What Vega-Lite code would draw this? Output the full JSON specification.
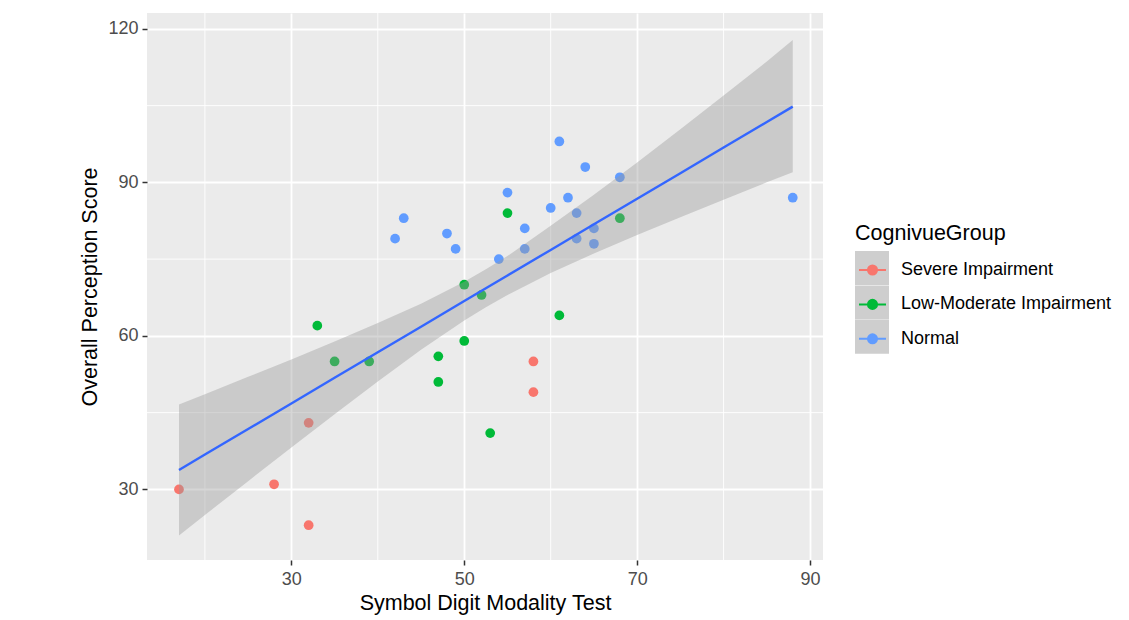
{
  "$schema": "https://vega.github.io/schema/vega-lite/v6.json",
  "width": 676,
  "height": 547,
  "autosize": "none",
  "padding": {"left": 147, "top": 13, "right": 306, "bottom": 60},
  "background": "#FFFFFF",
  "config": {
    "font": "Liberation Sans",
    "view": {"fill": "#EBEBEB", "stroke": null},
    "axis": {
      "domain": false,
      "tickColor": "#333333",
      "tickWidth": 1.5,
      "tickSize": 5,
      "labelColor": "#4D4D4D",
      "labelFontSize": 18,
      "labelFont": "Liberation Sans",
      "titleFont": "Liberation Sans",
      "titleFontSize": 21.5,
      "titleFontWeight": "normal",
      "titleColor": "#000000",
      "gridColor": "#FFFFFF",
      "gridWidth": 1.8,
      "gridOpacity": 1
    },
    "legend": {
      "titleFont": "Liberation Sans",
      "labelFont": "Liberation Sans",
      "titleFontWeight": "normal",
      "titleColor": "#000000",
      "labelColor": "#000000"
    }
  },
  "datasets": {
    "points": [
      {"sdmt": 17, "score": 30, "group": "Severe Impairment"},
      {"sdmt": 28, "score": 31, "group": "Severe Impairment"},
      {"sdmt": 32, "score": 43, "group": "Severe Impairment"},
      {"sdmt": 32, "score": 23, "group": "Severe Impairment"},
      {"sdmt": 58, "score": 55, "group": "Severe Impairment"},
      {"sdmt": 58, "score": 49, "group": "Severe Impairment"},
      {"sdmt": 33, "score": 62, "group": "Low-Moderate Impairment"},
      {"sdmt": 35, "score": 55, "group": "Low-Moderate Impairment"},
      {"sdmt": 39, "score": 55, "group": "Low-Moderate Impairment"},
      {"sdmt": 47, "score": 56, "group": "Low-Moderate Impairment"},
      {"sdmt": 47, "score": 51, "group": "Low-Moderate Impairment"},
      {"sdmt": 50, "score": 70, "group": "Low-Moderate Impairment"},
      {"sdmt": 50, "score": 59, "group": "Low-Moderate Impairment"},
      {"sdmt": 52, "score": 68, "group": "Low-Moderate Impairment"},
      {"sdmt": 53, "score": 41, "group": "Low-Moderate Impairment"},
      {"sdmt": 55, "score": 84, "group": "Low-Moderate Impairment"},
      {"sdmt": 61, "score": 64, "group": "Low-Moderate Impairment"},
      {"sdmt": 68, "score": 83, "group": "Low-Moderate Impairment"},
      {"sdmt": 42, "score": 79, "group": "Normal"},
      {"sdmt": 43, "score": 83, "group": "Normal"},
      {"sdmt": 48, "score": 80, "group": "Normal"},
      {"sdmt": 49, "score": 77, "group": "Normal"},
      {"sdmt": 54, "score": 75, "group": "Normal"},
      {"sdmt": 55, "score": 88, "group": "Normal"},
      {"sdmt": 57, "score": 81, "group": "Normal"},
      {"sdmt": 57, "score": 77, "group": "Normal"},
      {"sdmt": 60, "score": 85, "group": "Normal"},
      {"sdmt": 61, "score": 98, "group": "Normal"},
      {"sdmt": 62, "score": 87, "group": "Normal"},
      {"sdmt": 63, "score": 84, "group": "Normal"},
      {"sdmt": 63, "score": 79, "group": "Normal"},
      {"sdmt": 64, "score": 93, "group": "Normal"},
      {"sdmt": 65, "score": 81, "group": "Normal"},
      {"sdmt": 65, "score": 78, "group": "Normal"},
      {"sdmt": 68, "score": 91, "group": "Normal"},
      {"sdmt": 88, "score": 87, "group": "Normal"}
    ],
    "band": [
      {"sdmt": 17, "fit": 33.8, "lo": 21.0, "hi": 46.6},
      {"sdmt": 20, "fit": 36.8, "lo": 25.0, "hi": 48.6},
      {"sdmt": 25, "fit": 41.8, "lo": 31.6, "hi": 52.0},
      {"sdmt": 30, "fit": 46.8, "lo": 38.2, "hi": 55.4},
      {"sdmt": 35, "fit": 51.8, "lo": 44.7, "hi": 58.9},
      {"sdmt": 40, "fit": 56.8, "lo": 51.1, "hi": 62.5},
      {"sdmt": 45, "fit": 61.8, "lo": 57.3, "hi": 66.3},
      {"sdmt": 50, "fit": 66.8, "lo": 63.0, "hi": 70.6},
      {"sdmt": 52.5, "fit": 69.3, "lo": 65.6, "hi": 73.0},
      {"sdmt": 55, "fit": 71.8, "lo": 68.0, "hi": 75.6},
      {"sdmt": 60, "fit": 76.8, "lo": 72.3, "hi": 81.5},
      {"sdmt": 65, "fit": 81.8, "lo": 76.1, "hi": 87.6},
      {"sdmt": 70, "fit": 86.8, "lo": 79.7, "hi": 93.9},
      {"sdmt": 75, "fit": 91.8, "lo": 83.2, "hi": 100.4},
      {"sdmt": 80, "fit": 96.8, "lo": 86.6, "hi": 107.0},
      {"sdmt": 85, "fit": 101.8, "lo": 90.0, "hi": 113.6},
      {"sdmt": 88, "fit": 104.8, "lo": 92.0, "hi": 117.8}
    ],
    "minor_x": [{"v": 20}, {"v": 40}, {"v": 60}, {"v": 80}],
    "minor_y": [{"v": 45}, {"v": 75}, {"v": 105}]
  },
  "layer": [
    {
      "data": {"name": "minor_x"},
      "mark": {"type": "rule", "color": "#FFFFFF", "strokeWidth": 0.9},
      "encoding": {
        "x": {"field": "v", "type": "quantitative", "scale": {"domain": [13.3, 91.5], "nice": false, "zero": false}}
      }
    },
    {
      "data": {"name": "minor_y"},
      "mark": {"type": "rule", "color": "#FFFFFF", "strokeWidth": 0.9},
      "encoding": {
        "y": {"field": "v", "type": "quantitative", "scale": {"domain": [16.2, 123.1], "nice": false, "zero": false}}
      }
    },
    {
      "data": {"name": "points"},
      "mark": {"type": "point", "filled": true, "opacity": 0, "color": "#CECECE"},
      "encoding": {
        "x": {"field": "sdmt", "type": "quantitative"},
        "y": {"field": "score", "type": "quantitative"},
        "shape": {
          "field": "group", "type": "nominal",
          "scale": {"range": ["square"]},
          "legend": {
            "title": null,
            "labelExpr": "''",
            "orient": "none",
            "legendX": 708,
            "legendY": 238,
            "padding": 0,
            "zindex": 0,
            "labelFontSize": 18,
            "rowPadding": 0.4,
            "symbolSize": 1156,
            "symbolStrokeWidth": 0,
            "symbolOpacity": 1,
            "symbolOffset": 0,
            "encode": {
              "symbols": {"update": {"fill": {"value": "#CECECE"}, "opacity": {"value": 1}, "strokeWidth": {"value": 0}}}
            }
          }
        }
      }
    },
    {
      "data": {"name": "points"},
      "mark": {"type": "circle", "size": 95, "opacity": 1},
      "encoding": {
        "x": {
          "field": "sdmt", "type": "quantitative",
          "scale": {"domain": [13.3, 91.5], "nice": false, "zero": false},
          "axis": {"values": [30, 50, 70, 90], "title": "Symbol Digit Modality Test", "labelPadding": 5, "titlePadding": 4, "format": "d"}
        },
        "y": {
          "field": "score", "type": "quantitative",
          "scale": {"domain": [16.2, 123.1], "nice": false, "zero": false},
          "axis": {"values": [30, 60, 90, 120], "title": "Overall Perception Score", "labelPadding": 4, "titlePadding": 6, "format": "d"}
        },
        "color": {
          "field": "group", "type": "nominal",
          "scale": {"domain": ["Severe Impairment", "Low-Moderate Impairment", "Normal"], "range": ["#F8766D", "#00BA38", "#619CFF"]},
          "legend": {
            "title": "CognivueGroup",
            "orient": "none",
            "legendX": 708,
            "legendY": 210,
            "padding": 0,
            "zindex": 2,
            "titleFontSize": 21.5,
            "titlePadding": 8,
            "labelFontSize": 18,
            "labelOffset": 11,
            "labelLimit": 300,
            "rowPadding": 7.4,
            "symbolType": "M-0.833,0L0.833,0M-0.28,0A0.28,0.28,0,1,1,0.28,0A0.28,0.28,0,1,1,-0.28,0Z",
            "symbolSize": 1050,
            "symbolStrokeWidth": 2,
            "symbolOpacity": 1,
            "encode": {
              "symbols": {"update": {"stroke": {"scale": "color", "field": "value"}, "strokeWidth": {"value": 2}}}
            }
          }
        }
      }
    },
    {
      "data": {"name": "band"},
      "mark": {"type": "area", "color": "#999999", "opacity": 0.4},
      "encoding": {
        "x": {"field": "sdmt", "type": "quantitative"},
        "y": {"field": "lo", "type": "quantitative"},
        "y2": {"field": "hi"}
      }
    },
    {
      "data": {"name": "band"},
      "mark": {"type": "line", "color": "#3366FF", "strokeWidth": 2.4},
      "encoding": {
        "x": {"field": "sdmt", "type": "quantitative"},
        "y": {"field": "fit", "type": "quantitative"}
      }
    }
  ]
}
